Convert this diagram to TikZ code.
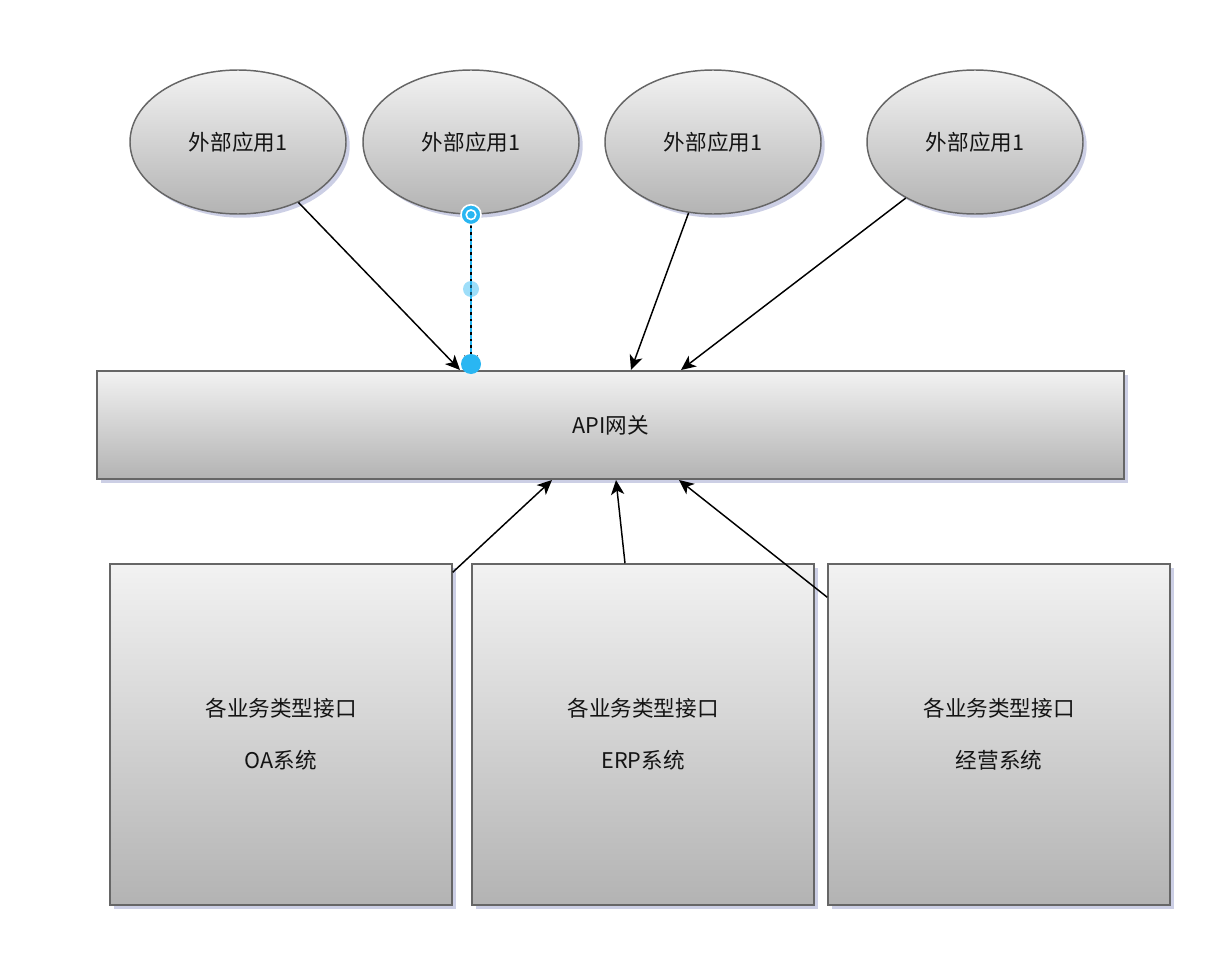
\documentclass[tikz,border=0pt]{standalone}
\usepackage{fontspec}
\setmainfont{Noto Sans CJK SC}
\usetikzlibrary{arrows.meta,shadows,calc,shapes.geometric}
\definecolor{edge}{HTML}{666666}
\definecolor{topc}{HTML}{F2F2F2}
\definecolor{botc}{HTML}{B3B3B3}
\definecolor{shad}{HTML}{A3A8D0}
\definecolor{selblue}{HTML}{29B6F2}
\tikzset{
  shapebase/.style={draw=edge, line width=1.1pt, top color=topc, bottom color=botc,
    drop shadow={shadow xshift=2.8pt, shadow yshift=-2.8pt, fill=shad, opacity=0.55},
    font=\fontsize{16.2}{19.5}\selectfont, text=black!92, align=center, inner sep=0pt},
  app/.style={shapebase, ellipse, minimum width=162pt, minimum height=108pt},
  gw/.style={shapebase, rectangle, minimum width=770pt, minimum height=81pt},
  sys/.style={shapebase, rectangle, minimum width=256.5pt, minimum height=255.75pt},
  arr/.style={draw=black, line width=1.1pt, -{Stealth[length=11pt,width=10pt,inset=3pt]}},
}
\begin{document}
\begin{tikzpicture}[x=0.75pt,y=-0.75pt]
\useasboundingbox (0,0) rectangle (1218,956);
\node[app] (e1) at (238,142) {外部应用1};
\node[app] (e2) at (471,142) {外部应用1};
\node[app] (e3) at (713,142) {外部应用1};
\node[app] (e4) at (975,142) {外部应用1};
\node[gw] (api) at (610.5,425) {API网关};
\node[sys] (b1) at (281,734.5) {各业务类型接口\\[19.5pt]OA系统};
\node[sys] (b2) at (643,734.5) {各业务类型接口\\[19.5pt]ERP系统};
\node[sys] (b3) at (999,734.5) {各业务类型接口\\[19.5pt]经营系统};
% end points on the gateway border
\coordinate (t1) at (460,370);
\coordinate (t2) at (471,370);
\coordinate (t3) at (631,370);
\coordinate (t4) at (681,370);
\coordinate (u1) at (552,480);
\coordinate (u2) at (616,480);
\coordinate (u3) at (679,480);
\draw[arr] (e1.-45) -- (t1);
\draw[arr] (e2.south) -- (t2);
\draw[arr] (e3.-109.4) -- (t3);
\draw[arr] (e4.-141.8) -- (t4);
\draw[arr] ([yshift=-6.75pt]b1.north east) -- (u1);
\draw[arr] ([xshift=-13.5pt]b2.north) -- (u2);
\draw[arr] ([yshift=-25.5pt]b3.north west) -- (u3);
% selection handles of the selected connector
\draw[selblue, line width=1.6pt, dash pattern=on 3pt off 2pt] (e2.south) -- (t2);
\fill[selblue, opacity=0.45] (471,289) circle[radius=6pt];
\fill[selblue] (t2) ++(0,-6) circle[radius=7.5pt];
\filldraw[fill=selblue, draw=white, line width=1.2pt] (e2.south) circle[radius=7.5pt];
\draw[white, line width=1.2pt] (e2.south) circle[radius=3.6pt];
\end{tikzpicture}
\end{document}
